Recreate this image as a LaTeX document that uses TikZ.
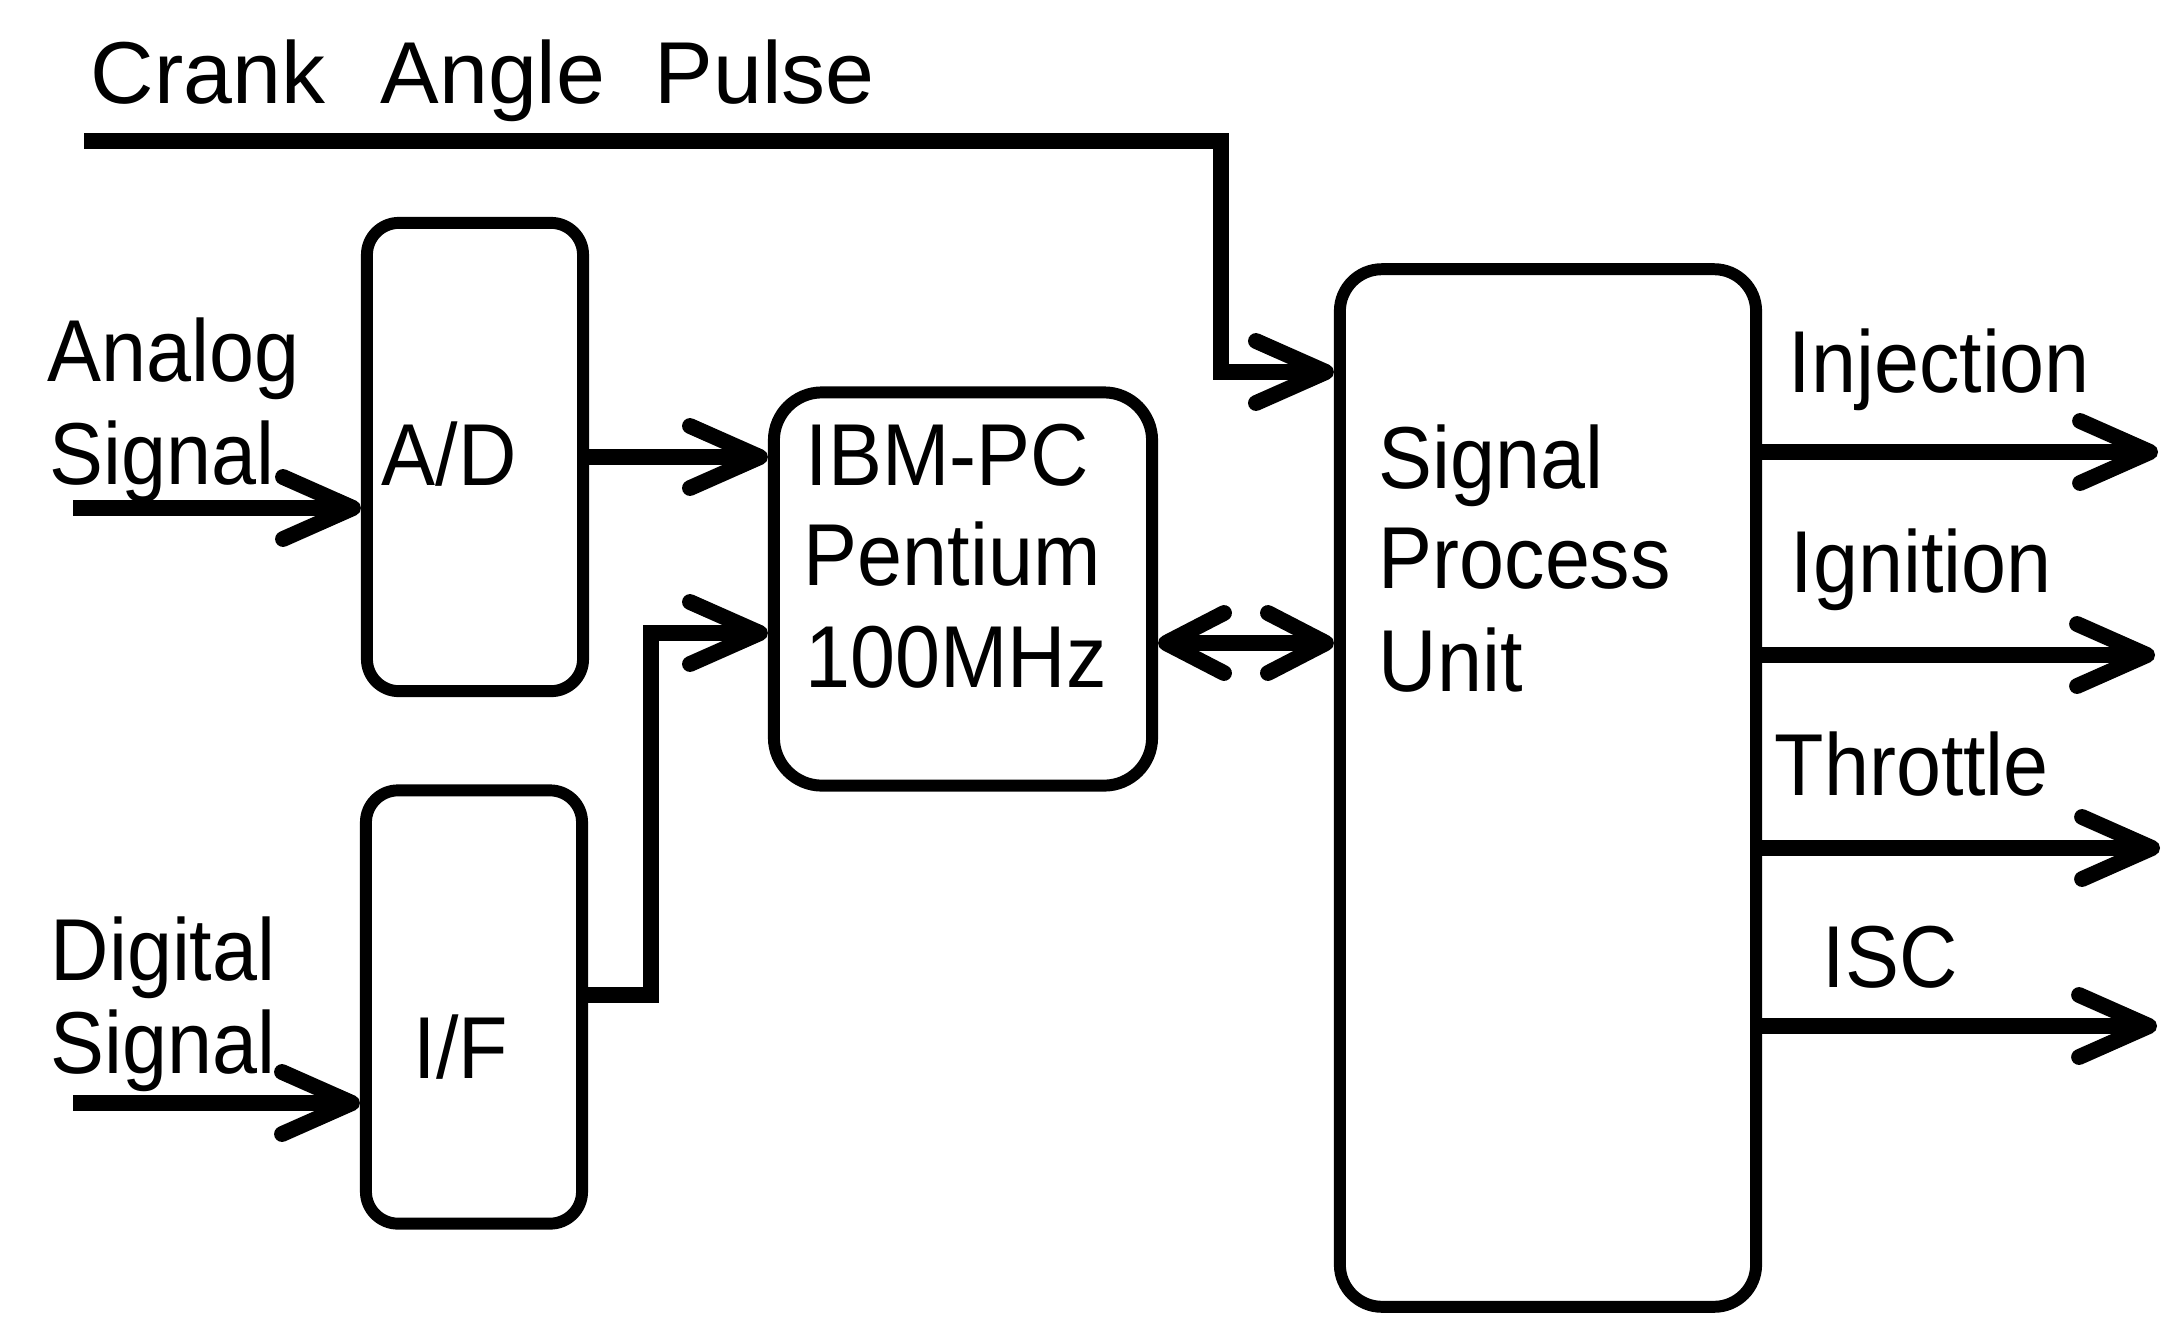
\documentclass[tikz,border=0pt]{standalone}
\usepackage{fontspec}
\setmainfont{Liberation Sans}[FakeStretch=0.92]
\newfontfamily\widefont{Liberation Sans}
\usetikzlibrary{arrows.meta}
\begin{document}
\begin{tikzpicture}[x=0.01cm, y=-0.01cm,
  lbl/.style={anchor=base west, inner sep=0pt, font=\fontsize{25}{30}\selectfont},
  blk/.style={draw, line width=3.4pt, inner sep=0pt},
  tipb/.tip={Straight Barb[length=7mm,width=6.2mm,round]},
  tips/.tip={Straight Barb[length=5.8mm,width=6mm,round]},
  arr/.style={line width=4.5pt, -tipb},
  dbl/.style={line width=4.5pt, tips-tips}
]
\fill[white] (0,0) rectangle (2162,1317);
\useasboundingbox (0,0) rectangle (2162,1317);

% blocks
\node[blk, rounded corners=0.32cm, minimum width=2.16cm, minimum height=4.68cm] (ad) at (475,457) {};
\node[blk, rounded corners=0.32cm, minimum width=2.16cm, minimum height=4.33cm] (if) at (474,1007) {};
\node[blk, rounded corners=0.48cm, minimum width=3.78cm, minimum height=3.93cm] (ibm) at (963,589) {};
\node[blk, rounded corners=0.42cm, minimum width=4.16cm, minimum height=10.37cm] (spu) at (1548,788) {};

% texts
\node[lbl, font=\fontsize{25}{30}\widefont] (crktxt) at (90,103) {Crank\hspace{0.31cm} Angle\hspace{0.25cm} Pulse};
\node[lbl] (an1) at (47,381) {Analog};
\node[lbl] (an2) at (49,484) {Signal};
\node[lbl] (di1) at (50,980) {Digital};
\node[lbl] (di2) at (50,1073) {Signal};
\node[lbl] (adtxt) at (381,485) {A/D};
\node[lbl] (iftxt) at (413,1078) {I/F};
\node[lbl] (ibm1) at (805,485) {IBM-PC};
\node[lbl] (ibm2) at (803,585) {Pentium};
\node[lbl] (ibm3) at (805,687) {100MHz};
\node[lbl] (spu1) at (1378,488) {Signal};
\node[lbl] (spu2) at (1378,588) {Process};
\node[lbl] (spu3) at (1378,691) {Unit};
\node[lbl] (injtxt) at (1788,392) {Injection};
\node[lbl] (igntxt) at (1790,592) {Ignition};
\node[lbl] (thrtxt) at (1774,795) {Throttle};
\node[lbl] (isctxt) at (1822,987) {ISC};

% coordinates
\coordinate (crk) at (84,141);
\coordinate (crkdrop) at (1221,372);
\coordinate (ain) at (73,508);
\coordinate (din) at (73,1103);
\coordinate (ifout) at ([yshift=0.12cm]if.east);
\coordinate (ifbend) at (651,633);
\coordinate (bus) at (1250,643);
\coordinate (injout) at (2158,452);
\coordinate (ignout) at (2155,655);
\coordinate (throut) at (2160,848);
\coordinate (iscout) at (2157,1026);

% connectors
\draw[arr] (crk) -| (crkdrop) -- (crkdrop -| spu.west);
\draw[arr] (ain) -- (ain -| ad.west);
\draw[arr] (din) -- (din -| if.west);
\draw[arr] (ad.east) -- (ad.east -| ibm.west);
\draw[arr] (ifout) -| (ifbend) -- (ifbend -| ibm.west);
\draw[dbl] (bus -| ibm.east) -- (bus -| spu.west);
\draw[arr] (injout -| spu.east) -- (injout);
\draw[arr] (ignout -| spu.east) -- (ignout);
\draw[arr] (throut -| spu.east) -- (throut);
\draw[arr] (iscout -| spu.east) -- (iscout);
\end{tikzpicture}
\end{document}
